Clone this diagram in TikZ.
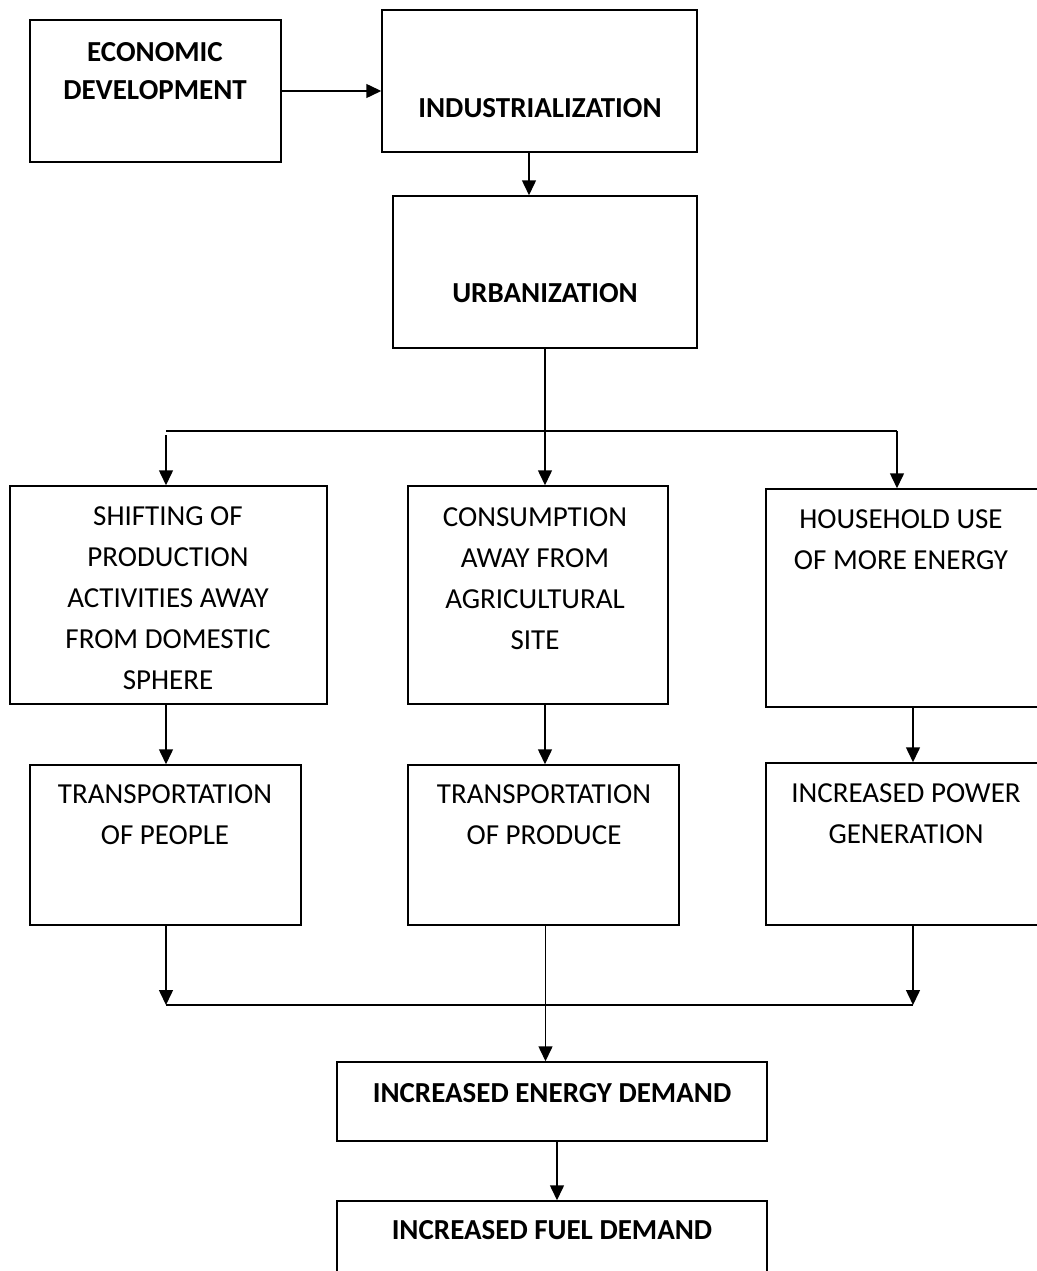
\documentclass[tikz,border=0pt]{standalone}
\usepackage{fontspec}
\setmainfont{Carlito}
\usetikzlibrary{arrows.meta}
\begin{document}
\begin{tikzpicture}[x=1pt,y=-1pt,
  box/.style={draw,line width=1.5pt,inner sep=0pt,rectangle},
  txt/.style={align=center,inner sep=0pt,font=\fontsize{29}{41}\selectfont},
  btxt/.style={align=center,inner sep=0pt,font=\fontsize{29}{38}\selectfont\bfseries},
  arr/.style={line width=1.5pt,-{Triangle[length=15pt,width=14pt]}},
  ln/.style={line width=1.5pt}]
\useasboundingbox (0,0) rectangle (1036,1271);
% boxes
\node[box,minimum width=251pt,minimum height=142pt] (eco) at (155.5,91) {};
\node[box,minimum width=315pt,minimum height=142pt] (ind) at (539.5,81) {};
\node[box,minimum width=304pt,minimum height=152pt] (urb) at (545,272) {};
\node[box,minimum width=317pt,minimum height=218pt] (shift) at (168.5,595) {};
\node[box,minimum width=260pt,minimum height=218pt] (cons) at (538,595) {};
\node[box,minimum width=274pt,minimum height=218pt] (house) at (903,598) {};
\node[box,minimum width=271pt,minimum height=160pt] (tpeople) at (165.5,845) {};
\node[box,minimum width=271pt,minimum height=160pt] (tproduce) at (543.5,845) {};
\node[box,minimum width=274pt,minimum height=162pt] (power) at (903,844) {};
\node[box,minimum width=430pt,minimum height=79pt] (energy) at (552,1101.5) {};
\node[box,minimum width=430pt,minimum height=89pt] (fuel) at (552,1245.5) {};
% texts
\node[btxt] (ecot) at (155,71) {ECONOMIC\\DEVELOPMENT};
\node[btxt] (indt) at (540,108) {INDUSTRIALIZATION};
\node[btxt] (urbt) at (545,293) {URBANIZATION};
\node[txt] (shiftt) at (168,598) {SHIFTING OF\\PRODUCTION\\ACTIVITIES AWAY\\FROM DOMESTIC\\SPHERE};
\node[txt] (const) at (535,578.5) {CONSUMPTION\\AWAY FROM\\AGRICULTURAL\\SITE};
\node[txt] (houset) at (901,540) {HOUSEHOLD USE\\OF MORE ENERGY};
\node[txt] (tpeoplet) at (165,815) {TRANSPORTATION\\OF PEOPLE};
\node[txt] (tproducet) at (544,815) {TRANSPORTATION\\OF PRODUCE};
\node[txt] (powert) at (906,813.5) {INCREASED POWER\\GENERATION};
\node[btxt] (energyt) at (552,1093) {INCREASED ENERGY DEMAND};
\node[btxt] (fuelt) at (552,1230) {INCREASED FUEL DEMAND};
% junction coordinates
\coordinate (jl) at (166,431);
\coordinate (jr) at (897,431);
\coordinate (bl) at (166,1005);
\coordinate (br) at (913,1005);
% connectors
\draw[arr] (eco.east) -- (eco.east -| ind.west);
\draw[arr] ([xshift=-10.5pt]ind.south) -- ([xshift=-10.5pt]ind.south |- urb.north);
\draw[arr] (urb.south) -- (urb.south |- cons.north);
\draw[ln] (jl) -- (jr);
\draw[arr] ([yshift=-4pt]jl) -- (jl |- shift.north);
\draw[arr] (jr) -- (jr |- house.north);
\draw[arr] ([xshift=-2.5pt]shift.south) -- ([xshift=-2.5pt]shift.south |- tpeople.north);
\draw[arr] ([xshift=7pt]cons.south) -- ([xshift=7pt]cons.south |- tproduce.north);
\draw[arr] ([xshift=10pt]house.south) -- ([xshift=10pt]house.south |- power.north);
\draw[arr] (bl |- tpeople.south) -- (bl);
\draw[arr] (br |- power.south) -- (br);
\draw[ln] (bl) -- (br);
\draw[arr] ([xshift=2pt]tproduce.south) -- ([xshift=2pt]tproduce.south |- energy.north);
\draw[arr] ([xshift=5pt]energy.south) -- ([xshift=5pt]energy.south |- fuel.north);
\end{tikzpicture}
\end{document}
